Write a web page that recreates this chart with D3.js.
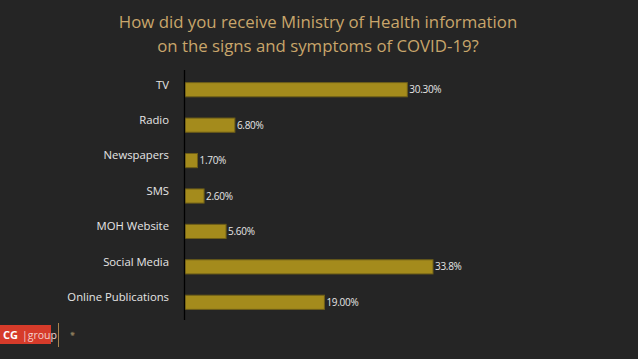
<!DOCTYPE html>
<html>
<head>
<meta charset="utf-8">
<script src="https://cdn.jsdelivr.net/npm/d3@7"></script>
<style>
  html, body { margin: 0; padding: 0; background: #242424; }
  svg { display: block; }
</style>
</head>
<body>
<div id="chart"></div>
<script>
// chart data
var categories = ['TV', 'Radio', 'Newspapers', 'SMS', 'MOH Website', 'Social Media', 'Online Publications'];
var values = [30.3, 6.8, 1.7, 2.6, 5.6, 33.8, 19.0];
var valueLabels = ['30.30%', '6.80%', '1.70%', '2.60%', '5.60%', '33.8%', '19.00%'];
var titleLines = ['How did you receive Ministry of Health information', 'on the signs and symptoms of COVID-19?'];

var W = 638, H = 359;
var font = "'Open Sans', 'Liberation Sans', sans-serif";

var svg = d3.select('#chart').append('svg')
  .attr('width', W)
  .attr('height', H);

// background
svg.append('rect')
  .attr('width', W).attr('height', H)
  .attr('fill', '#252525');

// title
svg.append('g').selectAll('text')
  .data(titleLines)
  .join('text')
  .attr('x', 318)
  .attr('y', function (d, i) { return 28 + i * 24; })
  .attr('text-anchor', 'middle')
  .attr('fill', '#c9a66b')
  .attr('font-family', font)
  .attr('font-size', 16.8)
  .text(function (d) { return d; });

var x0 = 185;
var x = d3.scaleLinear().domain([0, 33.8]).range([x0, 433]);
var y = d3.scaleBand().domain(categories).range([72, 320]).paddingInner(0.6).paddingOuter(0.3);

// bars
svg.append('g').selectAll('rect')
  .data(values)
  .join('rect')
  .attr('x', x(0))
  .attr('y', function (d, i) { return y(categories[i]); })
  .attr('width', function (d) { return x(d) - x(0); })
  .attr('height', y.bandwidth())
  .attr('fill', '#a48b1c')
  .attr('stroke', '#6e5e18')
  .attr('stroke-width', 1);

// value labels
svg.append('g').selectAll('text')
  .data(values)
  .join('text')
  .attr('x', function (d) { return x(d) + 2; })
  .attr('y', function (d, i) { return y(categories[i]) + y.bandwidth() / 2; })
  .attr('dy', '0.35em')
  .attr('fill', '#e6e6e6')
  .attr('font-family', font)
  .attr('font-size', 10)
  .attr('letter-spacing', -0.3)
  .text(function (d, i) { return valueLabels[i]; });

// category axis
var axis = svg.append('g')
  .attr('transform', 'translate(' + (x0 - 1) + ',0)')
  .call(d3.axisLeft(y).tickSize(0).tickPadding(15));

axis.select('.domain').remove();
axis.selectAll('text')
  .attr('fill', '#e6e6e6')
  .attr('font-family', font)
  .attr('font-size', 11.3)
  .attr('dy', '-0.1em');

svg.append('line')
  .attr('x1', x0 - 0.5).attr('x2', x0 - 0.5)
  .attr('y1', 70).attr('y2', 320)
  .attr('stroke', '#000')
  .attr('stroke-width', 1.3);

// footer logo
svg.append('rect')
  .attr('x', 0).attr('y', 325).attr('width', 51).attr('height', 19)
  .attr('fill', '#d63b2a');
svg.append('text')
  .attr('x', 3).attr('y', 339)
  .attr('fill', '#fff')
  .attr('font-family', font)
  .attr('font-weight', 'bold')
  .attr('font-size', 11)
  .text('CG');
svg.append('text')
  .attr('x', 22).attr('y', 339)
  .attr('fill', '#f3d0cc')
  .attr('font-family', font)
  .attr('font-size', 10.5)
  .text('|group');
svg.append('line')
  .attr('x1', 58.5).attr('x2', 58.5)
  .attr('y1', 323).attr('y2', 347)
  .attr('stroke', '#a8834f')
  .attr('stroke-width', 1);
svg.append('text')
  .attr('x', 72).attr('y', 336)
  .attr('text-anchor', 'middle')
  .attr('fill', '#8a7a5a')
  .attr('font-family', font)
  .attr('font-size', 6)
  .text('✺');
</script>
</body>
</html>
